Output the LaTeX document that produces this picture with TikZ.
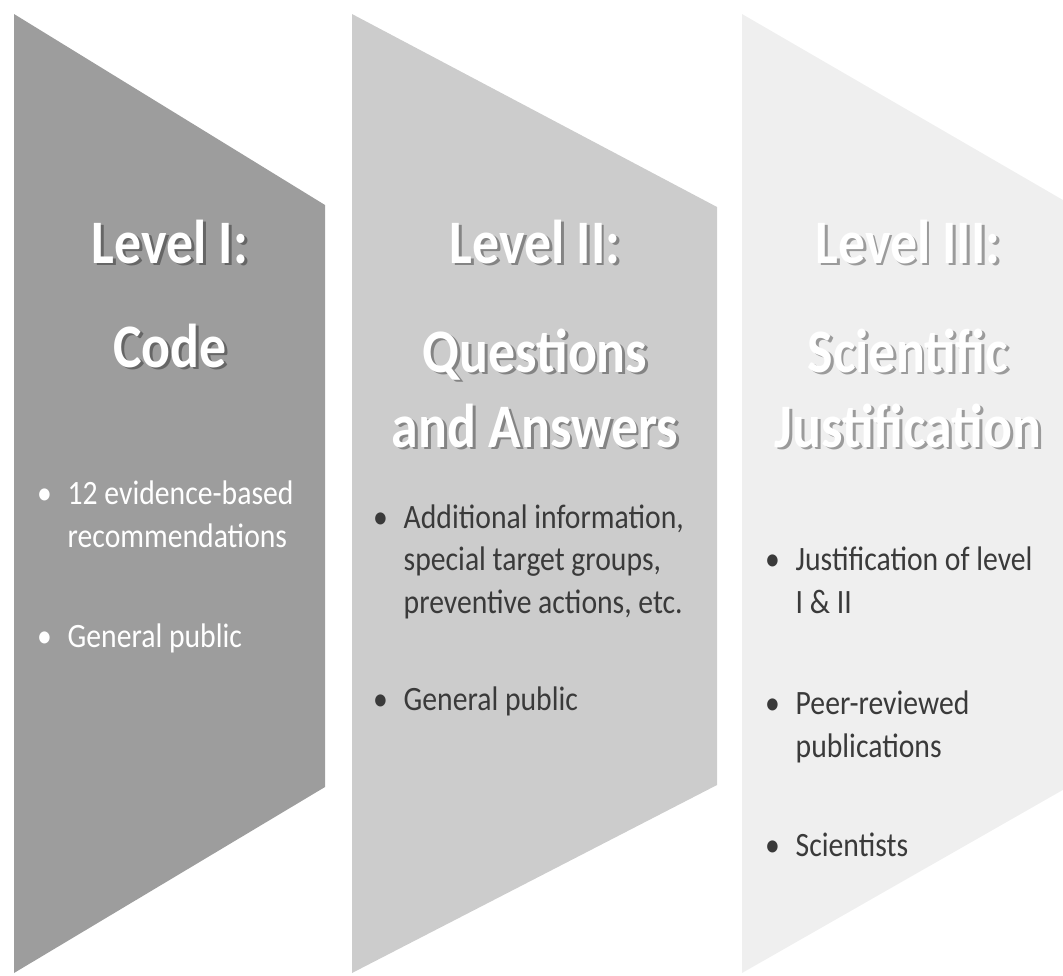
\documentclass[tikz,border=0pt]{standalone}
\usepackage{fontspec}
\setmainfont{Carlito}[FakeStretch=0.87]
\definecolor{cLvlOne}{RGB}{157,157,157}
\definecolor{cLvlTwo}{RGB}{204,204,204}
\definecolor{cLvlThree}{RGB}{239,239,239}
\definecolor{cDark}{RGB}{58,58,58}
\tikzset{
    heading/.style   ={anchor=base, inner sep=0pt, text=white, font=\fontsize{17.6}{21.3}\selectfont\bfseries},
    headshadow/.style={heading, text=black, opacity=0.35, xshift=0.8pt, yshift=-0.8pt},
    bullets/.style   ={anchor=base west, inner sep=0pt, align=left, font=\fontsize{9.7}{11.95}\selectfont},
}
% white heading with a soft drop shadow behind it
\newcommand{\headline}[3]{%
    \node[headshadow] (#1-sh) at (#2) {#3};
    \node[heading] (#1) at (#2) {#3};}
\newcommand{\bul}{\llap{\textbullet\hspace{4.5pt}}}

\begin{document}
\begin{tikzpicture}[x=0.01cm, y=-0.01cm]
    \useasboundingbox (0,0) rectangle (1063,975);
    % the three level panels
    \fill[cLvlOne]   (14,14)  -- (325,205)  -- (325,787)  -- (14,973)  -- cycle;
    \fill[cLvlTwo]   (352,14) -- (717,207)  -- (717,785)  -- (352,973) -- cycle;
    \fill[cLvlThree] (742,14) -- (1075,207) -- (1075,783) -- (742,973) -- cycle;

    % headings
    \headline{oneHead}{170,263}{Level I:}
    \headline{oneSub}{170,367}{Code}
    \headline{twoHead}{535,263}{Level II:}
    \headline{twoSub}{535,372}{Questions}
    \headline{twoSubB}{535,447}{and Answers}
    \headline{threeHead}{908,263}{Level III:}
    \headline{threeSub}{908,372}{Scientific}
    \headline{threeSubB}{908,447}{Justification}

    % bullet points (base = last line)
    \node[bullets, text=white] (oneA) at (67,547) {\bul 12 evidence-based\\recommendations};
    \node[bullets, text=white] (oneB) at (67,647) {\bul General public};
    \node[bullets, text=cDark] (twoA) at (403,613) {\bul Additional information,\\special target groups,\\preventive actions, etc.};
    \node[bullets, text=cDark] (twoB) at (403,710) {\bul General public};
    \node[bullets, text=cDark] (threeA) at (795,613) {\bul Justification of level\\I \& II};
    \node[bullets, text=cDark] (threeB) at (795,757) {\bul Peer-reviewed\\publications};
    \node[bullets, text=cDark] (threeC) at (795,856) {\bul Scientists};
\end{tikzpicture}
\end{document}
